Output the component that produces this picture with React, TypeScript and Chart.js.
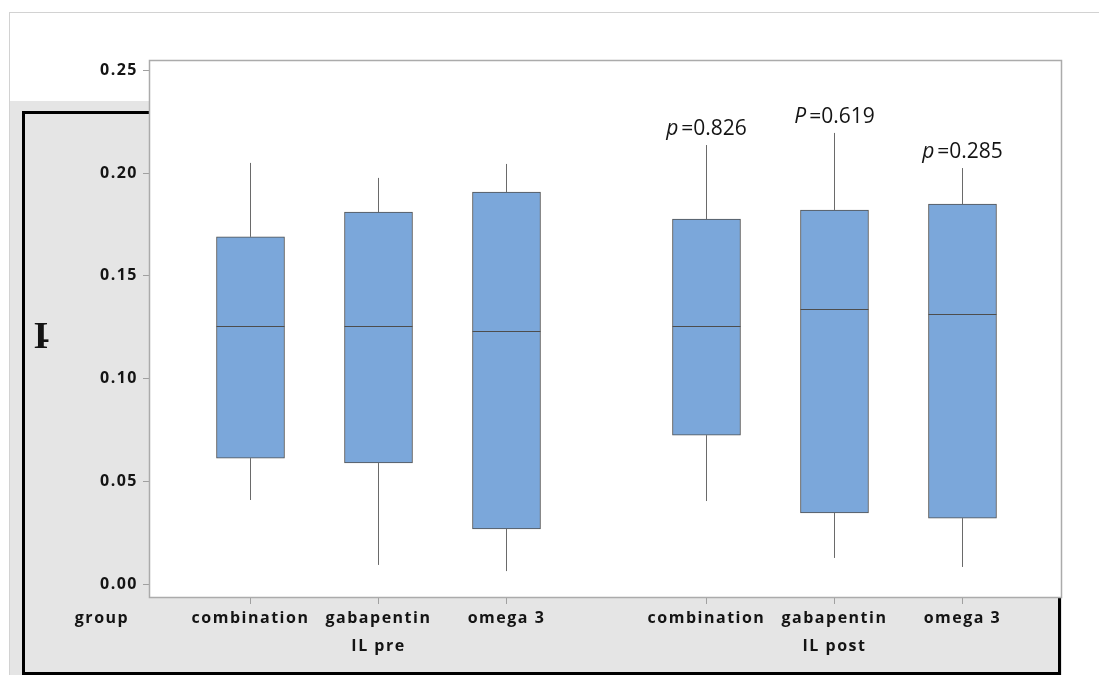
import React, { useEffect, useRef } from 'react';
import { Chart, registerables } from 'chart.js';

Chart.register(...registerables);

// ---- data ----
const treatments = ['combination', 'gabapentin', 'omega 3'];
const periods = ['IL pre', 'IL post'];
const groupTitle = 'group';
const yAxisTitle = 'I';
const xPositions = [1, 2, 3, 4.5625, 5.5625, 6.5625];
const whiskerMax = [0.205, 0.1977, 0.2045, 0.2137, 0.2196, 0.2025];
const q3Values = [0.169, 0.1811, 0.1908, 0.1777, 0.1821, 0.185];
const medianValues = [0.1256, 0.1256, 0.1232, 0.1256, 0.1339, 0.1315];
const q1Values = [0.0613, 0.0589, 0.0268, 0.0725, 0.0346, 0.0321];
const whiskerMin = [0.0409, 0.0093, 0.0063, 0.0404, 0.0127, 0.0083];
const pLetters = ['', '', '', 'p', 'P', 'p'];
const pValues = ['', '', '', '0.826', '0.619', '0.285'];
const yTicks = [0, 0.05, 0.1, 0.15, 0.2, 0.25];

const axisFont = '"Open Sans", "Noto Sans", sans-serif';
const textColor = '#141414';

const extrasPlugin = {
  id: 'boxExtras',
  beforeDraw(chart: any) {
    const { ctx, chartArea: a } = chart;
    ctx.save();
    ctx.fillStyle = '#ffffff';
    ctx.fillRect(a.left, a.top, a.right - a.left, a.bottom - a.top);
    ctx.restore();
    ctx.letterSpacing = '1.5px';
  },
  afterDatasetsDraw(chart: any) {
    const { ctx, chartArea: a } = chart;
    const ys = chart.scales.y;
    const meta = chart.getDatasetMeta(0);
    ctx.save();
    ctx.letterSpacing = '0px';
    meta.data.forEach((bar: any, i: number) => {
      const { x, width } = bar.getProps(['x', 'width'], true);
      const cx = Math.floor(x) + 0.5;
      ctx.strokeStyle = '#6a6a6a';
      ctx.lineWidth = 1;
      ctx.beginPath();
      ctx.moveTo(cx, ys.getPixelForValue(whiskerMax[i]));
      ctx.lineTo(cx, ys.getPixelForValue(q3Values[i]));
      ctx.moveTo(cx, ys.getPixelForValue(q1Values[i]));
      ctx.lineTo(cx, ys.getPixelForValue(whiskerMin[i]));
      ctx.stroke();
      const my = Math.round(ys.getPixelForValue(medianValues[i])) + 0.5;
      ctx.strokeStyle = '#4d4d4d';
      ctx.beginPath();
      ctx.moveTo(x - width / 2, my);
      ctx.lineTo(x + width / 2, my);
      ctx.stroke();

      if (pValues[i]) {
        const base = ys.getPixelForValue(whiskerMax[i]) - 10;
        const size = 21;
        ctx.fillStyle = textColor;
        ctx.textBaseline = 'alphabetic';
        ctx.textAlign = 'left';
        ctx.font = `italic ${size}px ${axisFont}`;
        const w1 = ctx.measureText(pLetters[i]).width + 3;
        ctx.font = `${size}px ${axisFont}`;
        const rest = '=' + pValues[i];
        const w2 = ctx.measureText(rest).width;
        const start = x - (w1 + w2) / 2;
        ctx.font = `italic ${size}px ${axisFont}`;
        ctx.fillText(pLetters[i], start, base);
        ctx.font = `${size}px ${axisFont}`;
        ctx.fillText(rest, start + w1, base);
      }
    });

    // plot frame
    ctx.strokeStyle = '#ababab';
    ctx.lineWidth = 1.5;
    ctx.strokeRect(a.left + 0.5, a.top + 0.5, a.right - a.left - 1, a.bottom - a.top - 1);

    // group label
    ctx.letterSpacing = '1.5px';
    ctx.fillStyle = textColor;
    ctx.font = `bold 16px ${axisFont}`;
    ctx.textAlign = 'center';
    ctx.textBaseline = 'middle';
    ctx.fillText(groupTitle, 102, 618);

    // odd y-axis title glyph
    ctx.letterSpacing = '0px';
    ctx.font = 'bold 38px "Liberation Serif", serif';
    ctx.textAlign = 'center';
    ctx.fillText(yAxisTitle, 41, 338);
    ctx.font = 'bold 22px "Liberation Sans", sans-serif';
    ctx.textAlign = 'left';
    ctx.fillText('-', 42, 340);
    ctx.restore();
  },
};

export default function App() {
  const ref = useRef<HTMLCanvasElement | null>(null);

  useEffect(() => {
    if (!ref.current) return;
    const chart = new Chart(ref.current, {
      type: 'bar',
      data: {
        datasets: [
          {
            type: 'bar',
            data: xPositions.map((x, i) => ({ x, y: [q1Values[i], q3Values[i]] })) as any,
            backgroundColor: '#7ba7da',
            borderColor: '#505050',
            borderWidth: 1,
            borderSkipped: false,
            barThickness: 68,
          } as any,
        ],
      },
      options: {
        animation: false,
        responsive: false,
        devicePixelRatio: 1,
        layout: { padding: { top: 60, right: 37, bottom: 0, left: 0 } },
        plugins: { legend: { display: false }, tooltip: { enabled: false } },
        scales: {
          x: {
            type: 'linear',
            offset: false,
            min: 0.207,
            max: 7.34,
            afterBuildTicks: (s: any) => {
              s.ticks = xPositions.map((v) => ({ value: v }));
            },
            afterFit: (s: any) => {
              s.height = 77;
            },
            grid: { offset: false, drawOnChartArea: false, drawTicks: true, tickLength: 6, tickColor: '#a0a0a0', color: '#a0a0a0' },
            border: { display: false },
            ticks: {
              autoSkip: false,
              maxRotation: 0,
              minRotation: 0,
              padding: 0,
              color: textColor,
              font: { family: axisFont, size: 16, weight: 'bold', lineHeight: '28px' } as any,
              callback: (_v: any, i: number) => {
                const t = treatments[i % 3];
                return i % 3 === 1 ? [t, periods[Math.floor(i / 3)]] : t;
              },
            },
          },
          y: {
            type: 'linear',
            min: -0.0068,
            max: 0.2551,
            afterBuildTicks: (s: any) => {
              s.ticks = yTicks.map((v) => ({ value: v }));
            },
            afterFit: (s: any) => {
              s.width = 149;
            },
            grid: { drawOnChartArea: false, drawTicks: true, tickLength: 6, tickColor: '#a0a0a0', color: '#a0a0a0' },
            border: { display: false },
            ticks: {
              padding: 5,
              color: textColor,
              font: { family: axisFont, size: 16, weight: 'bold' } as any,
              callback: (v: any) => Number(v).toFixed(2),
            },
          },
        },
      },
      plugins: [extrasPlugin],
    });
    return () => chart.destroy();
  }, []);

  return (
    <div style={{ position: 'fixed', left: 0, top: 0, width: 1099, height: 675, background: '#ffffff', overflow: 'hidden' }}>
      <div
        style={{
          position: 'absolute',
          left: 9,
          top: 12,
          width: 1200,
          height: 700,
          borderLeft: '1px solid #d2d2d2',
          borderTop: '1px solid #d2d2d2',
        }}
      />
      <div style={{ position: 'absolute', left: 10, top: 101, width: 1052, height: 574, background: '#e5e5e5' }} />
      <div
        style={{
          position: 'absolute',
          left: 22,
          top: 111,
          width: 1039,
          height: 564,
          boxSizing: 'border-box',
          border: '3px solid #000000',
        }}
      />
      <canvas ref={ref} width={1099} height={675} style={{ position: 'absolute', left: 0, top: 0, width: 1099, height: 675 }} />
    </div>
  );
}
